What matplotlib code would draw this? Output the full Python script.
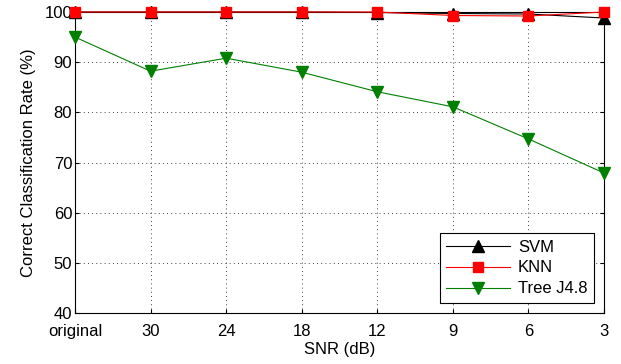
import numpy as np
import matplotlib.pyplot as plt

plt.rcParams['font.family'] = ['Liberation Sans', 'DejaVu Sans']

snr_labels = ["original", "30", "24", "18", "12", "9", "6", "3"]
svm = [100.0, 100.0, 100.0, 100.0, 99.9, 99.7, 99.6, 98.8]
knn = [100.0, 100.0, 100.0, 100.0, 100.0, 99.3, 99.2, 100.0]
tree = [95.0, 88.2, 90.8, 88.0, 84.1, 81.1, 74.7, 67.9]

x = np.arange(len(snr_labels))

fig = plt.figure(figsize=(6.21, 3.64), dpi=100)
# axes box placed to match the reference pixels
ax = fig.add_axes([75 / 621, 1 - 313 / 364, 529 / 621, 301 / 364])

ax.plot(x, svm, color="black", lw=0.8, marker="^", ms=8, label="SVM", clip_on=False, zorder=3)
ax.plot(x, knn, color="red", lw=0.8, marker="s", ms=7, label="KNN", clip_on=False, zorder=4)
ax.plot(x, tree, color="green", lw=0.8, marker="v", ms=9, label="Tree J4.8", clip_on=False, zorder=3)

ax.set_xlim(0, 7)
ax.set_ylim(40, 100)
ax.set_xticks(x)
ax.set_xticklabels(snr_labels)
ax.set_yticks(np.arange(40, 101, 10))
ax.tick_params(direction="in", top=True, right=True, labelsize=12, length=3)
ax.tick_params(axis="x", pad=8)
ax.tick_params(axis="y", pad=2)
ax.grid(True, linestyle=(0, (1, 4)), color="black", lw=0.6)
ax.set_xlabel("SNR (dB)", fontsize=12, labelpad=2)
ax.set_ylabel("Correct Classification Rate (%)", fontsize=12, labelpad=6)

leg = ax.legend(loc="lower right", fontsize=12, fancybox=False, framealpha=1,
                edgecolor="black", handlelength=3.8, borderaxespad=0.6,
                labelspacing=0.35, handletextpad=0.5)
leg.get_frame().set_linewidth(0.8)

fig.savefig("out.png", dpi=100)
